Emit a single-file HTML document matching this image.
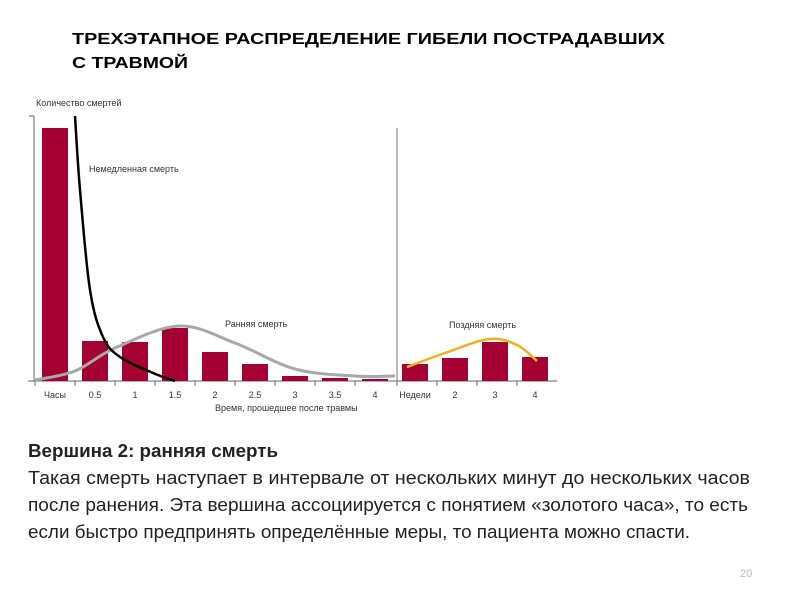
<!DOCTYPE html>
<html><head><meta charset="utf-8"><style>
html,body{margin:0;padding:0;background:#fff;}
svg{display:block;font-family:"Liberation Sans",sans-serif;}
</style></head><body>
<svg width="800" height="600" viewBox="0 0 800 600">
<text x="72" y="44" font-size="16" font-weight="bold" textLength="593" lengthAdjust="spacingAndGlyphs">ТРЕХЭТАПНОЕ РАСПРЕДЕЛЕНИЕ ГИБЕЛИ ПОСТРАДАВШИХ</text>
<text x="72" y="68" font-size="16" font-weight="bold" textLength="116" lengthAdjust="spacingAndGlyphs">С ТРАВМОЙ</text>
<g id="chart"></g>
<text x="28" y="457" font-size="18" font-weight="bold" fill="#222" textLength="250" lengthAdjust="spacingAndGlyphs">Вершина 2: ранняя смерть</text>
<text x="28" y="484" font-size="18" fill="#222" textLength="722" lengthAdjust="spacingAndGlyphs">Такая смерть наступает в интервале от нескольких минут до нескольких часов</text>
<text x="28" y="511" font-size="18" fill="#222" textLength="720" lengthAdjust="spacingAndGlyphs">после ранения. Эта вершина ассоциируется с понятием «золотого часа», то есть</text>
<text x="28" y="538" font-size="18" fill="#222" textLength="662" lengthAdjust="spacingAndGlyphs">если быстро предпринять определённые меры, то пациента можно спасти.</text>
<text x="740" y="577" font-size="11" fill="#bbb">20</text>
</svg>
<script>
const earlyLabels=["Часы","0.5","1","1.5","2","2.5","3","3.5","4"];
const earlyValues=[253,40,39,53,29,17,5,3,2];
const lateLabels=["Недели","2","3","4"];
const lateValues=[17,23,39,24];
const immediateCurve=[[1.0,265],[1.125,191],[1.375,91],[1.7,44],[2.125,24],[2.95,8],[3.5,0]];
const earlyCurve=[[0,1],[1,10],[2,33],[3.6,55],[5,38],[6.5,12],[8,5],[9,5]];
const lateCurve=[[0.25,14],[1.2,28],[2.3,42],[3,36],[3.5,20]];
const NS="http://www.w3.org/2000/svg";
const g=document.getElementById('chart');
const x0=35,slot=40,base=381,lateX0=397;
const y=v=>base-v;
const xe=i=>x0+slot*i;
const xl=i=>lateX0+slot*i;
function mk(t,a){const e=document.createElementNS(NS,t);for(const k in a)e.setAttribute(k,a[k]);g.appendChild(e);return e;}
let e;
e=mk('line',{x1:34,y1:116,x2:34,y2:base,stroke:'#666','stroke-width':1});


e=mk('line',{x1:29,y1:116,x2:34,y2:116,stroke:'#666'});


e=mk('line',{x1:28,y1:base,x2:557,y2:base,stroke:'#666'});


e=mk('line',{x1:397,y1:128,x2:397,y2:base,stroke:'#777'});


e=mk('text',{x:36,y:106,'font-size':9,fill:'#333'});e.textContent='Количество смертей';


earlyValues.forEach((v,i)=>{
 e=mk('rect',{x:xe(i)+7,y:y(v),width:26,height:v,fill:'#a50034'});
 
 
 e=mk('line',{x1:xe(i),y1:base,x2:xe(i),y2:base+5,stroke:'#666'});
 
 
 e=mk('text',{x:xe(i)+20,y:398,'font-size':9,fill:'#333','text-anchor':'middle'});e.textContent=earlyLabels[i];
 
 
});
lateValues.forEach((v,i)=>{
 e=mk('rect',{x:xl(i)+5,y:y(v),width:26,height:v,fill:'#a50034'});
 
 
 e=mk('line',{x1:xl(i),y1:base,x2:xl(i),y2:base+5,stroke:'#666'});
 
 
 e=mk('text',{x:xl(i)+18,y:398,'font-size':9,fill:'#333','text-anchor':'middle'});e.textContent=lateLabels[i];
 
 
});
function path(pts,fx){let s='M'+fx(pts[0][0])+','+y(pts[0][1]);
 for(let i=0;i<pts.length-1;i++){const p0=pts[Math.max(0,i-1)],p1=pts[i],p2=pts[i+1],p3=pts[Math.min(pts.length-1,i+2)];
  const c1x=fx(p1[0])+(fx(p2[0])-fx(p0[0]))/6,c1y=y(p1[1])-(p2[1]-p0[1])/6;
  const c2x=fx(p2[0])-(fx(p3[0])-fx(p1[0]))/6,c2y=y(p2[1])+(p3[1]-p1[1])/6;
  s+=' C'+c1x+','+c1y+' '+c2x+','+c2y+' '+fx(p2[0])+','+y(p2[1]);}
 return s;}
const fxe=t=>x0+slot*t, fxl=t=>lateX0+slot*t;
e=mk('path',{d:path(earlyCurve,fxe),fill:'none',stroke:'#a8a8a8','stroke-width':3});


e=mk('path',{d:path(immediateCurve,fxe),fill:'none',stroke:'#000','stroke-width':2.5});


e=mk('path',{d:path(lateCurve,fxl),fill:'none',stroke:'#f0b020','stroke-width':2.5});


e=mk('text',{x:89,y:172,'font-size':9,fill:'#333'});e.textContent='Немедленная смерть';


e=mk('text',{x:225,y:327,'font-size':9,fill:'#333'});e.textContent='Ранняя смерть';


e=mk('text',{x:449,y:328,'font-size':9,fill:'#333'});e.textContent='Поздняя смерть';


e=mk('text',{x:215,y:411,'font-size':9,fill:'#333'});e.textContent='Время, прошедшее после травмы';


</script>
</body></html>
